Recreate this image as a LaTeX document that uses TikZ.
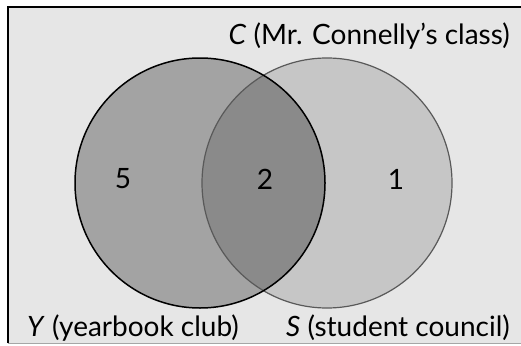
\documentclass[tikz,border=0pt]{standalone}
\usepackage{fontspec}
\setmainfont{Lato}
\definecolor{panelgray}{HTML}{E6E6E6}
\definecolor{yeargray}{HTML}{A3A3A3}
\definecolor{councilgray}{HTML}{C6C6C6}
\definecolor{bothgray}{HTML}{8A8A8A}
\begin{document}
\begin{tikzpicture}[x=1pt, y=-1pt,
    setlabel/.style={font=\fontsize{28}{32}\selectfont, inner sep=0pt},
    countlabel/.style={font=\fontsize{28}{32}\selectfont, inner sep=0pt}]
  \useasboundingbox (0,0) rectangle (521,345);
  % panel
  \fill[panelgray] (8,7) rectangle (521,343);
  \draw[line width=2pt] (8,343) -- (8,7) -- (521,7);
  \draw[black!35, line width=0.6pt] (8,343) -- (521,343);
  % two sets
  \coordinate (Y) at (200,183);
  \coordinate (S) at (327,183);
  \fill[councilgray] (S) circle (125);
  \fill[yeargray] (Y) circle (125);
  \begin{scope}
    \clip (Y) circle (125);
    \fill[bothgray] (S) circle (125);
  \end{scope}
  \draw[black!65, line width=1.2pt] (S) circle (125);
  \draw[line width=1.5pt] (Y) circle (125);
  % counts
  \node[countlabel] (onlyY) at (123,179) {5};
  \node[countlabel] (both) at (265,179) {2};
  \node[countlabel] (onlyS) at (396,179) {1};
  % names
  \node[setlabel, anchor=base east] (Clab) at (510,45) {\textit{C} (Mr. Connelly’s class)};
  \node[setlabel, anchor=base west] (Ylab) at (27,336) {\textit{Y} (yearbook club)};
  \node[setlabel, anchor=base east] (Slab) at (510,336) {\textit{S} (student council)};
\end{tikzpicture}
\end{document}
